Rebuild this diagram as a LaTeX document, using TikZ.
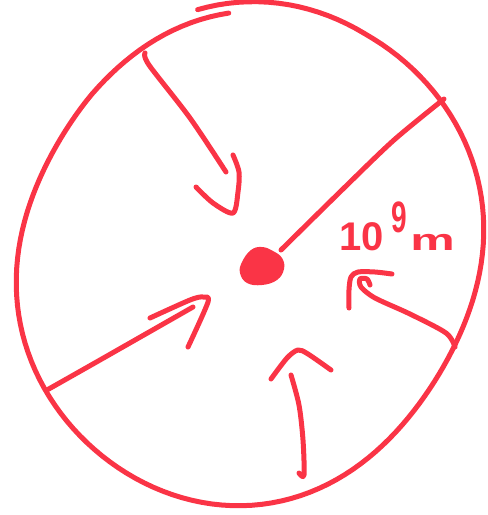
\documentclass[tikz,border=0pt]{standalone}
\usepackage{graphicx}
\usepackage{fontspec}
\setmainfont{Liberation Sans}
\definecolor{pen}{RGB}{250,52,70}
\tikzset{ink/.style={draw=pen, line width=5pt, line cap=round, line join=round},
  declare function={R(\t)=238.7-8.6*cos(2*\t)-10.55*sin(2*\t)+2.1*cos(4*\t)-1.6*sin(4*\t);}}
\begin{document}
\begin{tikzpicture}[x=1pt,y=-1pt]
\useasboundingbox (0,0) rectangle (488,515);
% outer hand-drawn circle (one stroke, overlapping at the top)
\draw[ink] plot[domain=258:625, samples=160, variable=\x]
  ({250+(R(\x)+7*max(0,1-(\x-258)/40)-4*max(0,1-(625-\x)/40))*cos(\x)},
   {256+(R(\x)+7*max(0,1-(\x-258)/40)-4*max(0,1-(625-\x)/40))*sin(\x)});
% centre blob
\coordinate (c) at (262,266);
\fill[pen] plot[smooth cycle, tension=0.7] coordinates {(242,262) (251,250) (262,247) (273,251) (282,258) (284,269) (277,280) (262,285) (247,283) (240,273)};
% radius
\draw[ink] plot[smooth] coordinates {(281,250) (344,188) (394,140) (444,99)};
% label
\node[text=pen, font=\fontsize{40}{44}\selectfont\bfseries, anchor=base west, inner sep=0pt] (lbl) at (339,250)
  {10\hspace{8pt}\raisebox{18pt}{\scalebox{0.7}[1.1]{9}}\hspace{3pt}\scalebox{1.25}[0.75]{m}};
% arrow top-left
\draw[ink] plot[smooth] coordinates {(145,53) (149,65) (190,118) (226,172)};
\draw[ink] plot[smooth] coordinates {(196,187) (213,203) (233,213) (238,192) (239,172) (233,155)};
% arrow lower-left
\draw[ink] plot[smooth] coordinates {(47,390) (100,360) (193,307)};
\draw[ink] plot[smooth] coordinates {(150,318) (190,300) (203,297) (208,302) (188,347)};
% arrow bottom
\draw[ink] plot[smooth] coordinates {(291,375) (299,405) (303,440) (304,475) (299,473)};
\draw[ink] plot[smooth] coordinates {(271,379) (287,358) (298,350) (308,354) (331,370)};
% arrow lower-right
\draw[ink] plot[smooth] coordinates {(455,347) (446,333) (410,314) (375,298) (361,287) (360,279) (367,279) (370,285)};
\draw[ink] plot[smooth] coordinates {(349,308) (349,290) (351,277) (358,272) (375,272) (392,274)};
\end{tikzpicture}
\end{document}
